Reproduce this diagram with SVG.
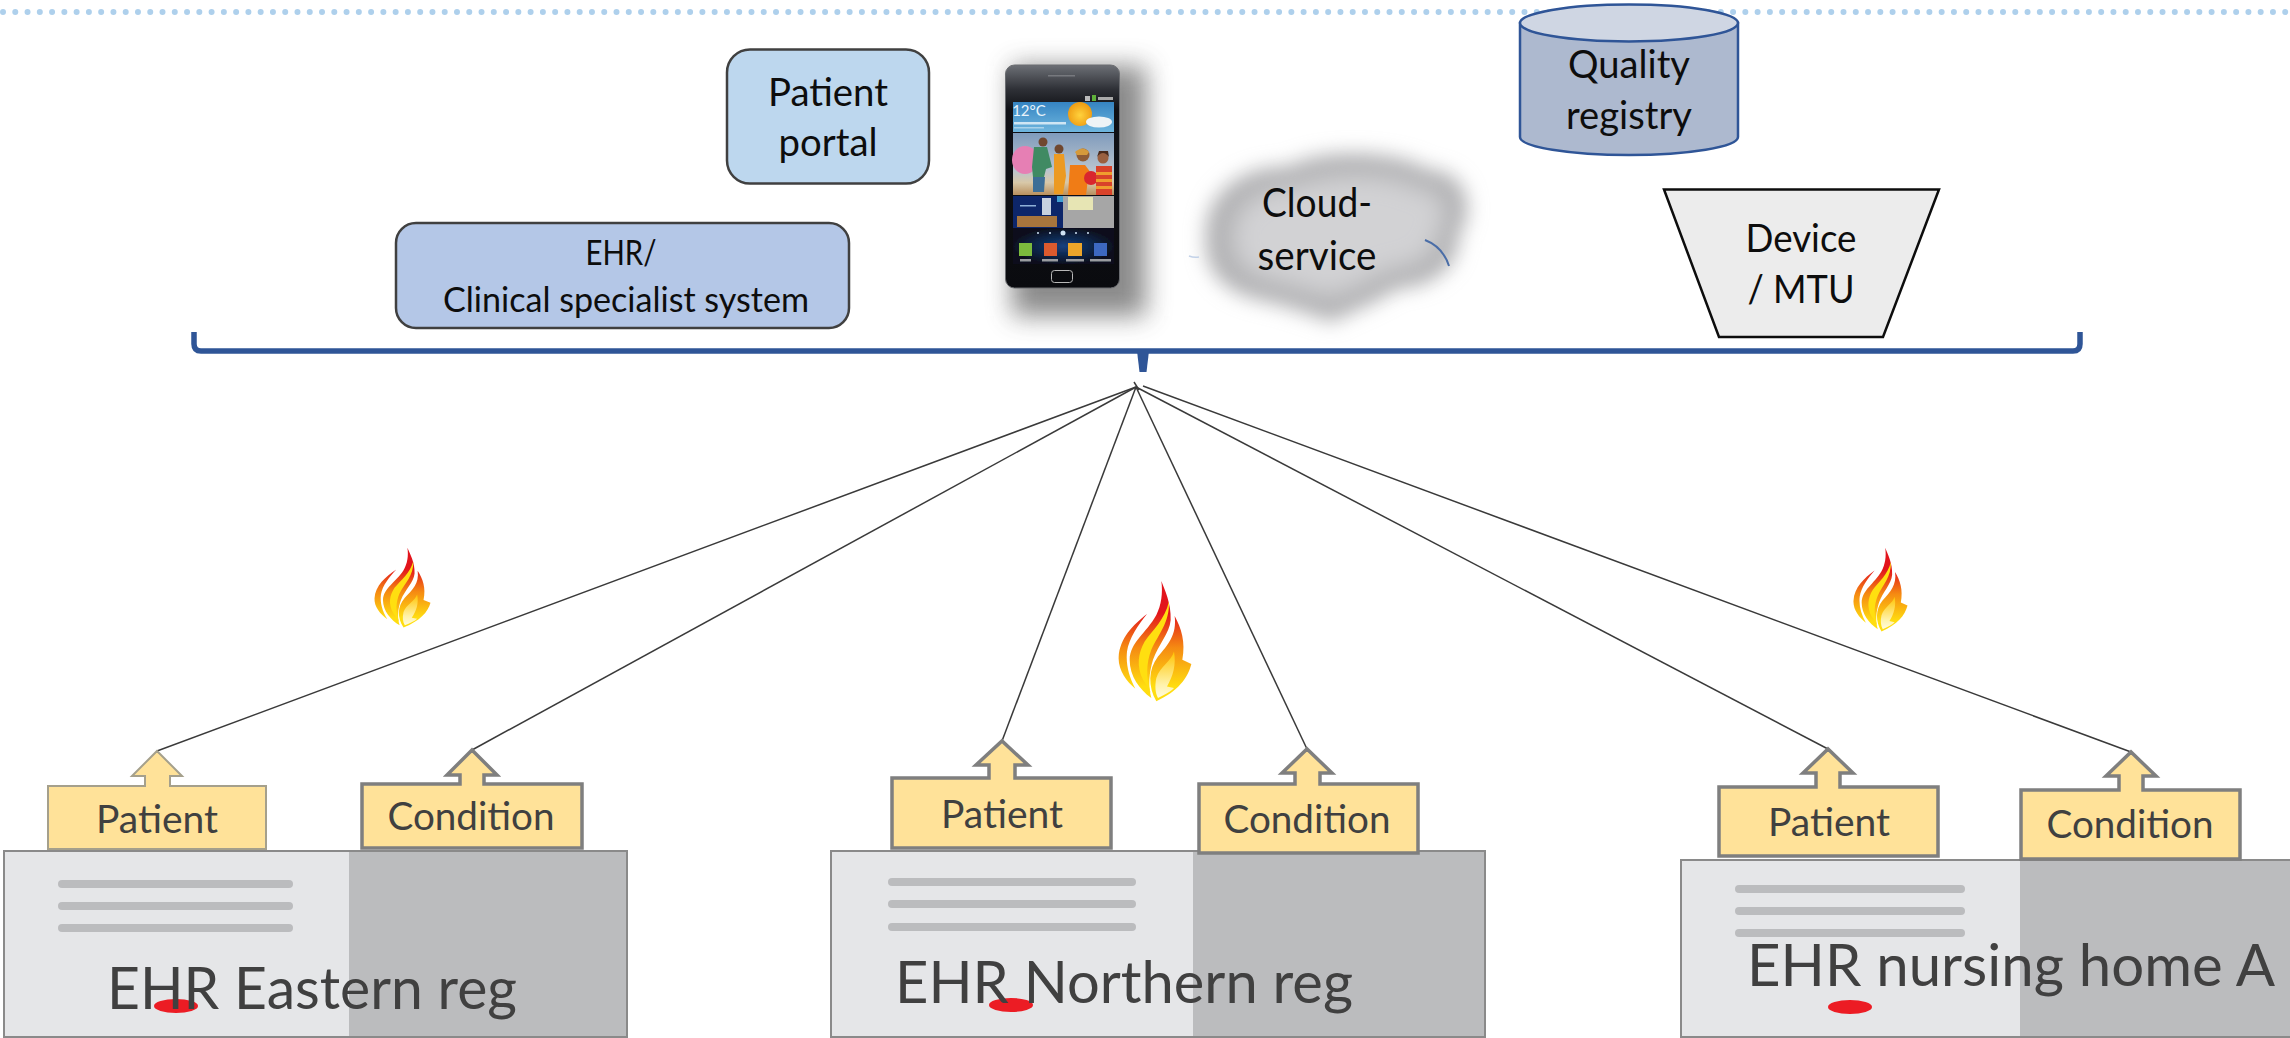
<svg xmlns="http://www.w3.org/2000/svg" xmlns:xlink="http://www.w3.org/1999/xlink" width="2290" height="1038" viewBox="0 0 2290 1038">
<style>
text{font-family:Lato,"Liberation Sans",sans-serif;text-anchor:middle}
.lb{font-size:38px;fill:#0d0d0d}
.sm{font-size:34px;fill:#0d0d0d}
.tag{font-size:38px;fill:#404040}
.big{font-size:58px;fill:#404040}
.arr{fill:#ffe299}
.a1{stroke:#a5a08c;stroke-width:2}
.a2{stroke:#7f7f7f;stroke-width:3.5}
.cn{fill:none;stroke:#3a3a3a;stroke-width:1.5}
.ehrL{fill:#e5e6e8}
.ehrR{fill:#bbbcbe}
.fr{fill:none;stroke:#8a8a8a;stroke-width:2}
.ln{fill:#bbbcbe}
.red{fill:#ec1c24}
</style>
<defs>
<linearGradient id="fg" gradientUnits="userSpaceOnUse" x1="0" y1="90" x2="0" y2="350"><stop offset="0.15" stop-color="#e2141c"/><stop offset="0.55" stop-color="#f58a12"/><stop offset="1" stop-color="#ffdd10"/></linearGradient>
<linearGradient id="fp" x1="0" y1="0" x2="0" y2="1"><stop offset="0" stop-color="#ffc400"/><stop offset="0.7" stop-color="#fff2a8"/><stop offset="1" stop-color="#fffbe0"/></linearGradient>
<linearGradient id="gl" x1="0" y1="0" x2="0" y2="1"><stop offset="0" stop-color="#6d7076"/><stop offset="0.11" stop-color="#2e3036"/><stop offset="0.2" stop-color="#101116"/><stop offset="1" stop-color="#0a0b0f"/></linearGradient>
<linearGradient id="sky" x1="0" y1="0" x2="0" y2="1"><stop offset="0" stop-color="#3584c2"/><stop offset="1" stop-color="#6fb6de"/></linearGradient>
<linearGradient id="ph" x1="0" y1="0" x2="0" y2="1"><stop offset="0" stop-color="#7f9bbc"/><stop offset="0.6" stop-color="#b9c4cf"/><stop offset="0.8" stop-color="#d8c8a8"/><stop offset="1" stop-color="#b9905e"/></linearGradient>
<radialGradient id="sun" cx=".5" cy=".55" r=".55"><stop offset="0" stop-color="#ffd23c"/><stop offset="1" stop-color="#ee9a12"/></radialGradient>
<radialGradient id="ws"><stop offset="0" stop-color="#17407e"/><stop offset="1" stop-color="#07101f"/></radialGradient>
<filter id="b12" x="-40%" y="-40%" width="180%" height="180%"><feGaussianBlur stdDeviation="13"/></filter>
<filter id="b1" x="-20%" y="-20%" width="140%" height="140%"><feGaussianBlur stdDeviation=".7"/></filter>
<filter id="b9" x="-30%" y="-30%" width="160%" height="160%"><feGaussianBlur stdDeviation="10"/></filter>
<filter id="b5" x="-30%" y="-30%" width="160%" height="160%"><feGaussianBlur stdDeviation="12"/></filter>
<symbol id="flame" viewBox="85 30 222 367" preserveAspectRatio="none">
<path fill="url(#fg)" d="M172 132C130 165 90 205 87 262C85 300 110 335 137 357C118 320 108 285 112 245C118 205 145 165 172 132Z"/>
<path fill="url(#fg)" d="M215 33C225 60 245 100 243 150C240 190 205 225 190 270C178 310 175 350 185 385C150 360 120 320 120 270C122 215 170 190 200 135C215 105 220 70 215 33Z"/>
<path fill="#ffdf10" d="M238 95C225 150 190 180 165 215C145 250 140 290 160 330C170 345 178 360 183 370C168 320 170 280 185 240C205 195 240 160 238 95Z"/>
<path fill="url(#fg)" d="M255 138C275 175 288 215 278 270L305 283C295 325 265 365 200 395C175 350 175 300 205 260C235 225 262 195 255 138Z"/>
<path fill="url(#fp)" d="M253 245C245 275 210 290 200 325C195 350 197 370 205 385C225 375 245 365 253 355L232 350C250 320 260 285 253 245Z"/>
</symbol>
</defs>
<rect width="2290" height="1038" fill="#fff"/>
<line id="dots" x1="3" y1="12" x2="2290" y2="12" stroke="#aed0ec" stroke-width="6" stroke-linecap="round" stroke-dasharray="0 12.27"/>

<g id="connectors">
<path class="cn" d="M1136 387L157 751"/>
<path class="cn" d="M1136 387L472 750"/>
<path class="cn" d="M1136 387L1002 741"/>
<path class="cn" d="M1136 387L1307 749"/>
<path class="cn" d="M1134 382L1139 390"/>
<path class="cn" d="M1136 387L1828 749"/>
<path class="cn" d="M1143 386L2131 752"/>
</g>

<g id="bracket"><path d="M194 332V344Q194 351 201 351H2073Q2080 351 2080 344V332" fill="none" stroke="#2f5597" stroke-width="5.5"/><path d="M1137 351H1149L1146.500 372H1139.500Z" fill="#2f5597"/></g>

<g id="ehr-system"><rect x="396" y="223" width="453" height="105" rx="20" fill="#b4c7e7" stroke="#404040" stroke-width="2.500"/>
<text class="sm" x="621" y="265" textLength="71" lengthAdjust="spacingAndGlyphs">EHR/</text>
<text class="sm" x="626" y="312" textLength="366" lengthAdjust="spacingAndGlyphs">Clinical specialist system</text></g>

<g id="patient-portal"><rect x="727" y="49.500" width="202" height="134" rx="23" fill="#bdd7ee" stroke="#404040" stroke-width="2.500"/>
<text class="lb" x="828" y="106" textLength="120" lengthAdjust="spacingAndGlyphs">Patient</text>
<text class="lb" x="828" y="156" textLength="99" lengthAdjust="spacingAndGlyphs">portal</text></g>

<g id="phone">
<rect x="1012" y="66" width="134" height="250" fill="#505050" opacity=".66" filter="url(#b12)"/>
<rect x="1005.500" y="65" width="114" height="223" rx="9" fill="url(#gl)" stroke="#6a6c70" stroke-width="1"/>
<rect x="1048" y="75" width="27" height="1.500" fill="#77797e"/>
<g filter="url(#b1)">
<rect x="1085" y="96" width="5" height="5" fill="#bbb"/><rect x="1092" y="95" width="4" height="6" fill="#5fb03a"/><rect x="1098" y="97" width="15" height="3" fill="#aaa"/>
<rect x="1013" y="102" width="101" height="30" fill="url(#sky)"/>
<circle cx="1080" cy="114" r="12" fill="url(#sun)"/>
<ellipse cx="1099" cy="122" rx="13" ry="5.500" fill="#eef3f6"/>
<rect x="1014" y="122" width="52" height="2.500" fill="#cfe6f4"/><rect x="1014" y="127" width="30" height="1.500" fill="#a9d2ea"/>
<rect x="1013" y="133" width="101" height="62" fill="url(#ph)"/>
<ellipse cx="1025" cy="160" rx="13" ry="14" fill="#e67fb4"/>
<path d="M1034 147h13l5 20l-6 2l-2 8h-11l-1-10z" fill="#3f8a63"/><path d="M1033 177h12l-1 15h-11z" fill="#3c6e96"/><circle cx="1043" cy="142" r="4.500" fill="#70472f"/>
<path d="M1054 154h10l2 22l-3 18h-9z" fill="#ec9a24"/><circle cx="1059" cy="149" r="4.500" fill="#70472f"/>
<path d="M1070 165h15l6 8l-3 6l-2 16h-18z" fill="#f07c14"/><circle cx="1083" cy="155" r="6.500" fill="#8f5c36"/><path d="M1075 152q8-7 14 0l-2 3h-10z" fill="#d59a3a"/>
<circle cx="1091" cy="178" r="7" fill="#d9262e"/>
<path d="M1096 166h16v29h-16z" fill="#d9432a"/><path d="M1096 172h16v3h-16zM1096 179h16v3h-16zM1096 186h16v3h-16z" fill="#f09d2e"/><circle cx="1103" cy="158" r="5.500" fill="#9a6140"/><path d="M1097 157q6-8 12 0l-1-6h-9z" fill="#4a2a1c"/>
<rect x="1013" y="196" width="50" height="32" fill="#10286a"/>
<rect x="1017" y="216" width="40" height="11" fill="#a8743c"/>
<rect x="1042" y="198" width="9" height="17" fill="#c8d2e0"/>
<rect x="1020" y="205" width="16" height="1.500" fill="#8eb0d8"/>
<rect x="1063" y="196" width="51" height="32" fill="#a6a6a6"/>
<rect x="1057" y="196" width="6" height="6" fill="#3f9fd2"/>
<rect x="1068" y="197" width="25" height="13" fill="#e7e5b4"/>
<rect x="1013" y="228" width="101" height="36" fill="url(#ws)"/>
<circle cx="1063" cy="233" r="2.500" fill="#cfe2f4"/><circle cx="1038" cy="233" r="1" fill="#cfe2f4"/><circle cx="1050" cy="233" r="1" fill="#cfe2f4"/><circle cx="1076" cy="233" r="1" fill="#cfe2f4"/><circle cx="1088" cy="233" r="1" fill="#cfe2f4"/>
<rect x="1019" y="243" width="13" height="13" fill="#7cba3c"/>
<rect x="1044" y="243" width="13" height="13" fill="#dc5a2e"/>
<rect x="1068" y="243" width="14" height="13" fill="#eda52a"/>
<rect x="1094" y="243" width="13" height="13" fill="#3d67c0"/>
<rect x="1020" y="259" width="11" height="2.500" fill="#9a9ca0"/><rect x="1042" y="259" width="16" height="2.500" fill="#9a9ca0"/><rect x="1066" y="259" width="18" height="2.500" fill="#9a9ca0"/><rect x="1090" y="259" width="21" height="2.500" fill="#9a9ca0"/>
</g>
<text x="1029" y="116" style="font-size:15px;fill:#e8f3fa">12°C</text>
<rect x="1051.500" y="270.500" width="21" height="12" rx="3" fill="none" stroke="#b8b8b8" stroke-width="1"/>
</g>

<g id="cloud-service">
<path d="M1206 240C1202 195 1242 165 1288 167C1325 146 1402 152 1428 170C1468 170 1476 212 1458 235C1461 268 1428 288 1397 288C1377 303 1352 310 1332 322C1310 314 1288 306 1260 300C1224 292 1204 270 1206 240Z" fill="#b0b0b2" filter="url(#b9)"/>
<path d="M1232 238C1230 205 1262 186 1296 186C1328 170 1395 172 1418 188C1448 190 1452 215 1438 234C1440 255 1412 270 1388 270C1368 284 1348 290 1332 298C1310 292 1290 286 1268 280C1245 275 1230 258 1232 238Z" fill="#d2d2d4" filter="url(#b5)"/>
<path d="M1425 240Q1443 247 1449 266" fill="none" stroke="#4a6da7" stroke-width="2"/>
<path d="M1189 256Q1194 258 1199 257" fill="none" stroke="#c3d2e8" stroke-width="1.500"/>
<text class="lb" x="1317" y="217" style="font-size:40px" textLength="110" lengthAdjust="spacingAndGlyphs">Cloud-</text>
<text class="lb" x="1317" y="270" style="font-size:40px" textLength="119" lengthAdjust="spacingAndGlyphs">service</text></g>

<g id="quality-registry">
<path d="M1520 23V137C1520 147 1570 155 1629 155S1738 147 1738 137V23Z" fill="#adb9cf" stroke="#2f5597" stroke-width="2.500"/>
<ellipse cx="1629" cy="23" rx="109" ry="18.500" fill="#cfd6e3" stroke="#2f5597" stroke-width="2.500"/>
<text class="lb" x="1629" y="78" textLength="122" lengthAdjust="spacingAndGlyphs">Quality</text>
<text class="lb" x="1629" y="129" textLength="126" lengthAdjust="spacingAndGlyphs">registry</text></g>

<g id="device-mtu"><path d="M1664 189.500H1939L1883 337H1719Z" fill="#ececec" stroke="#0d0d0d" stroke-width="2.500"/>
<text class="lb" x="1801" y="252" textLength="111" lengthAdjust="spacingAndGlyphs">Device</text>
<text class="lb" x="1801" y="303" textLength="107" lengthAdjust="spacingAndGlyphs">/ MTU</text></g>

<use id="flame-left" xlink:href="#flame" href="#flame" x="374" y="547" width="57" height="81"/>
<use id="flame-mid" xlink:href="#flame" href="#flame" x="1118" y="580" width="74" height="122"/>
<use id="flame-right" xlink:href="#flame" href="#flame" x="1853" y="547" width="55" height="85"/>

<g id="ehr-eastern">
<rect class="ehrL" x="4" y="851" width="345" height="186"/><rect class="ehrR" x="349" y="851" width="278" height="186"/>
<rect class="fr" x="4" y="851" width="623" height="186"/>
<rect class="ln" x="58" y="880" width="235" height="8" rx="4"/><rect class="ln" x="58" y="902" width="235" height="8" rx="4"/><rect class="ln" x="58" y="924" width="235" height="8" rx="4"/>
<ellipse class="red" cx="176" cy="1006" rx="22" ry="7"/>
<text class="big" x="312" y="1009" textLength="410" lengthAdjust="spacingAndGlyphs">EHR Eastern reg</text></g>
<g id="patient-eastern"><path class="arr a1" d="M48 786H145V776H132L157 751L182 776H170V786H266V849H48Z"/><text class="tag" x="157" y="833" textLength="122" lengthAdjust="spacingAndGlyphs">Patient</text></g>
<g id="condition-eastern"><path class="arr a2" d="M362 784H460V775H447L472 750L497 775H484V784H582V848H362Z"/><text class="tag" x="471" y="830" textLength="167" lengthAdjust="spacingAndGlyphs">Condition</text></g>

<g id="ehr-northern">
<rect class="ehrL" x="831" y="851" width="362" height="186"/><rect class="ehrR" x="1193" y="851" width="292" height="186"/>
<rect class="fr" x="831" y="851" width="654" height="186"/>
<rect class="ln" x="888" y="878" width="248" height="8" rx="4"/><rect class="ln" x="888" y="900" width="248" height="8" rx="4"/><rect class="ln" x="888" y="923" width="248" height="8" rx="4"/>
<ellipse class="red" cx="1011" cy="1005" rx="22" ry="7"/>
<text class="big" x="1124" y="1003" textLength="458" lengthAdjust="spacingAndGlyphs">EHR Northern reg</text></g>
<g id="patient-northern"><path class="arr a2" d="M892 778H989V765H976L1002 741L1028 765H1015V778H1111V848H892Z"/><text class="tag" x="1002" y="828" textLength="122" lengthAdjust="spacingAndGlyphs">Patient</text></g>
<g id="condition-northern"><path class="arr a2" d="M1199 784H1295V773H1282L1307 749L1332 773H1320V784H1418V853H1199Z"/><text class="tag" x="1307" y="833" textLength="167" lengthAdjust="spacingAndGlyphs">Condition</text></g>

<g id="ehr-nursing">
<rect class="ehrL" x="1681" y="860" width="339" height="177"/><rect class="ehrR" x="2020" y="860" width="270" height="177"/>
<rect class="fr" x="1681" y="860" width="612" height="177"/>
<rect class="ln" x="1735" y="885" width="230" height="8" rx="4"/><rect class="ln" x="1735" y="907" width="230" height="8" rx="4"/><rect class="ln" x="1735" y="929" width="230" height="8" rx="4"/>
<ellipse class="red" cx="1850" cy="1007" rx="22" ry="7"/>
<text class="big" x="2011" y="986" textLength="528" lengthAdjust="spacingAndGlyphs">EHR nursing home A</text></g>
<g id="patient-nursing"><path class="arr a2" d="M1719 787H1816V773H1803L1828 749L1853 773H1840V787H1938V856H1719Z"/><text class="tag" x="1829" y="836" textLength="122" lengthAdjust="spacingAndGlyphs">Patient</text></g>
<g id="condition-nursing"><path class="arr a2" d="M2021 790H2119V776H2106L2131 752L2156 776H2143V790H2240V859H2021Z"/><text class="tag" x="2130" y="838" textLength="167" lengthAdjust="spacingAndGlyphs">Condition</text></g>
</svg>
